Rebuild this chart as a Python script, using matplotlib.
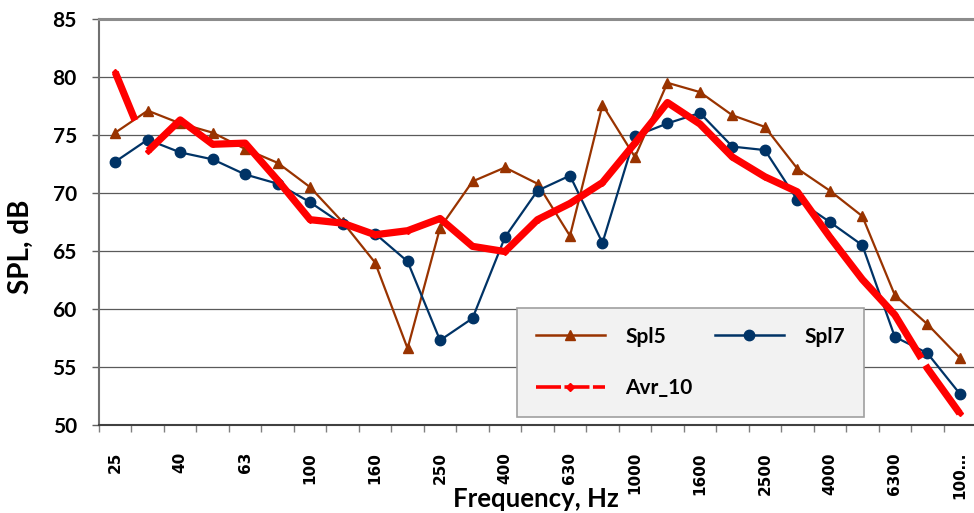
import matplotlib
matplotlib.use('Agg')
import matplotlib.pyplot as plt
from matplotlib.lines import Line2D

# 1/3-octave bands, Hz
freqs = ['25', '31.5', '40', '50', '63', '80', '100', '125', '160', '200', '250', '315',
         '400', '500', '630', '800', '1000', '1250', '1600', '2000', '2500', '3150',
         '4000', '5000', '6300', '8000', '10000']
spl5 = [75.2, 77.1, 76.0, 75.2, 73.8, 72.6, 70.5, 67.5, 64.0, 56.6, 67.0, 71.0,
        72.2, 70.8, 66.3, 77.6, 73.1, 79.5, 78.7, 76.7, 75.7, 72.1, 70.2, 68.0,
        61.2, 58.7, 55.8]
spl7 = [72.7, 74.6, 73.5, 72.9, 71.6, 70.8, 69.2, 67.3, 66.5, 64.1, 57.3, 59.2,
        66.2, 70.2, 71.5, 65.7, 74.9, 76.0, 76.9, 74.0, 73.7, 69.4, 67.5, 65.5,
        57.6, 56.2, 52.7]
avr10 = [80.4, 73.6, 76.3, 74.2, 74.3, 71.1, 67.7, 67.4, 66.4, 66.75, 67.8, 65.4,
         64.95, 67.7, 69.1, 70.9, 74.3, 77.8, 75.95, 73.1, 71.4, 70.1, 66.2, 62.55,
         59.5, 54.9, 51.0]
tick_labels = freqs[::2]
tick_labels[-1] = '100…'   # excel cut the last label

BROWN = '#993300'
NAVY = '#003366'
RED = '#ff0000'
lbl_font = ['Lato', 'DejaVu Sans']
plt.rcParams['lines.scale_dashes'] = False

fig = plt.figure(figsize=(9.74, 5.13), dpi=100)
ax = fig.add_axes([99 / 974, 1 - 425 / 513, 877 / 974, 406 / 513])
x = list(range(len(freqs)))

ax.plot(x, spl5, '-', color=BROWN, lw=1.6, marker='^', ms=7.5, zorder=3)
ax.plot(x, spl7, '-', color=NAVY, lw=1.6, marker='o', ms=7.5, zorder=3)
# thick avg line, long dashes (px -> pt, gaps land where excel put them)
px = 0.72
ax.plot(x, avr10, color=RED, lw=5.2, marker='D', ms=3, zorder=4,
        dashes=[52 * px, 34 * px, 1019 * px, 8 * px, 400 * px, 1],
        dash_capstyle='butt', solid_joinstyle='round', dash_joinstyle='round')

ax.set_xlim(-0.5, len(freqs) - 0.5)
ax.set_ylim(50, 85)
ax.set_yticks(range(50, 90, 5))
ax.set_xticks(x[::2])
ax.set_xticklabels(tick_labels, rotation=90, fontsize=11, fontweight='bold',
                   family='DejaVu Sans')
ax.set_xticks([i - 0.5 for i in range(len(freqs) + 1)], minor=True)
ax.tick_params(axis='x', which='major', length=0, pad=19.5)
ax.tick_params(axis='x', which='minor', length=5, color='#808080', width=1)
ax.tick_params(axis='y', length=5, color='#606060', width=1, pad=11)
for t in ax.get_yticklabels():
    t.set_fontsize(15); t.set_fontweight('bold'); t.set_family(lbl_font)

ax.grid(True, axis='y', color='#5a5a5a', lw=0.9)
ax.set_axisbelow(True)
ax.spines['right'].set_visible(False)
ax.spines['top'].set_color('#8c8c8c'); ax.spines['top'].set_linewidth(2.2)
ax.spines['left'].set_color('#707070'); ax.spines['left'].set_linewidth(1.5)
ax.spines['bottom'].set_color('#404040'); ax.spines['bottom'].set_linewidth(1.5)

ax.set_ylabel('SPL, dB', fontsize=20, fontweight='bold', family=lbl_font)
ax.yaxis.set_label_coords(-0.074, 0.438)
ax.set_xlabel('Frequency, Hz', fontsize=18.5, fontweight='bold', family=lbl_font)
ax.xaxis.set_label_coords(0.498, -0.152)

h5 = Line2D([], [], color=BROWN, lw=1.8, marker='^', ms=7.5)
h7 = Line2D([], [], color=NAVY, lw=1.8, marker='o', ms=7.5)
ha = Line2D([], [], color=RED, lw=2.6, marker='D', ms=4.5, dashes=[18, 2.5])
leg = ax.legend([h5, ha, h7], ['Spl5', 'Avr_10', 'Spl7'], ncol=2,
                loc='upper left', mode='expand',
                bbox_to_anchor=(517 / 974, 1 - 414 / 513, 347 / 974, 106 / 513),
                bbox_transform=fig.transFigure, borderaxespad=0,
                prop={'family': lbl_font, 'weight': 'bold', 'size': 15},
                handlelength=3.3, handletextpad=1.0, labelspacing=1.5,
                columnspacing=0.8, borderpad=0.9, fancybox=False, framealpha=1)
leg.get_frame().set_facecolor('#f2f2f2')
leg.get_frame().set_edgecolor('#a0a0a0')
leg.get_frame().set_linewidth(1.2)

fig.savefig('out.png', dpi=100)
